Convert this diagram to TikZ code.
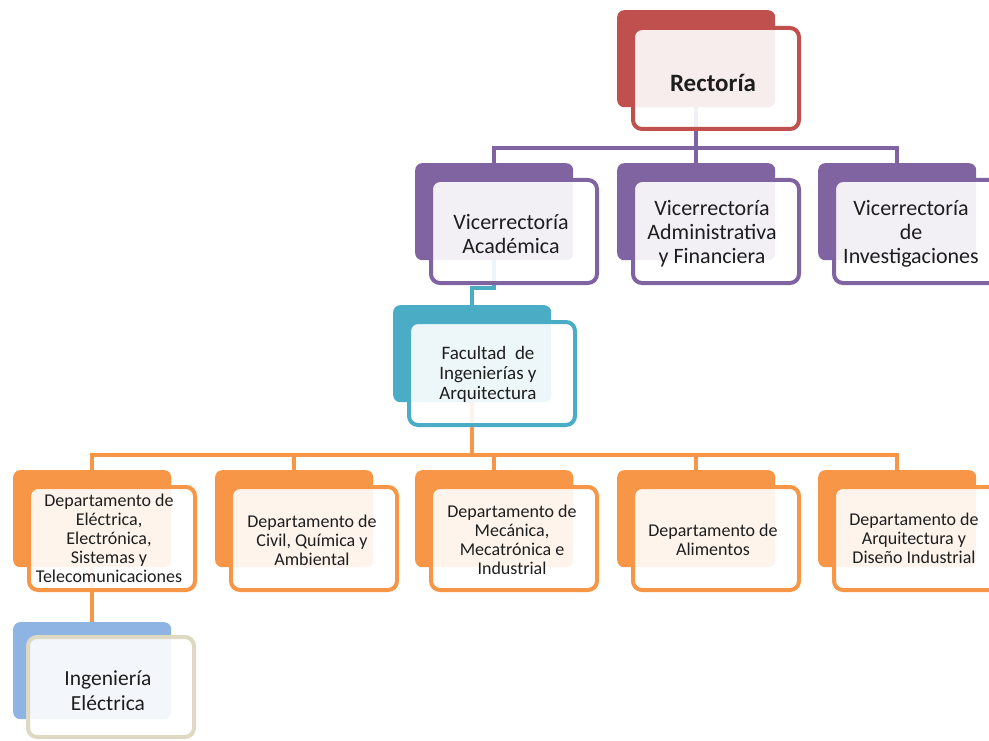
\documentclass[tikz,border=0pt]{standalone}
\usepackage{fontspec}
\setmainfont{Carlito}
\usetikzlibrary{backgrounds}
\definecolor{cRed}{HTML}{C0504D}
\definecolor{cPurple}{HTML}{8064A2}
\definecolor{cCyan}{HTML}{4BACC6}
\definecolor{cOrange}{HTML}{F79646}
\definecolor{cBlue}{HTML}{8EB4E3}
\definecolor{cBeige}{HTML}{DDD9C3}
\definecolor{cText}{HTML}{1E1E1E}
\tikzset{
  backbox/.style={anchor=north west, minimum width=158pt, minimum height=97pt, inner sep=0pt, rounded corners=7pt, draw=none, fill=#1},
  frontbox/.style={anchor=north west, minimum width=166pt, minimum height=103pt, inner sep=0pt, rounded corners=9pt, draw=#1, line width=4pt, fill=white, fill opacity=0.9},
  conn/.style={draw=#1, line width=4pt},
  txt/.style={align=center, text=cText, inner sep=0pt},
  viceT/.style={txt, font=\fontsize{22}{24}\selectfont},
  facT/.style={txt, font=\fontsize{19}{20}\selectfont},
  depT/.style={txt, font=\fontsize{18}{19}\selectfont},
  ingT/.style={txt, font=\fontsize{21.5}{25}\selectfont},
  recT/.style={txt, font=\fontsize{25}{28}\selectfont\bfseries}
}
\begin{document}
\begin{tikzpicture}[x=1pt,y=-1pt]
\useasboundingbox (0,0) rectangle (989,741);
\clip (0,0) rectangle (989,741);
% back boxes
\node[backbox=cRed] (Rb) at (617,10) {};
\node[backbox=cPurple] (VAb) at (415,163) {};
\node[backbox=cPurple] (VFb) at (617,163) {};
\node[backbox=cPurple] (VIb) at (818,163) {};
\node[backbox=cCyan] (Fb) at (393,305) {};
\node[backbox=cOrange] (D1b) at (13,470) {};
\node[backbox=cOrange] (D2b) at (215,470) {};
\node[backbox=cOrange] (D3b) at (415,470) {};
\node[backbox=cOrange] (D4b) at (617,470) {};
\node[backbox=cOrange] (D5b) at (818,470) {};
\node[backbox=cBlue] (Ib) at (13,622) {};
% front boxes
\node[frontbox=cRed, minimum height=101pt] (Rf) at (631,26) {};
\node[frontbox=cPurple] (VAf) at (429,178) {};
\node[frontbox=cPurple] (VFf) at (631,178) {};
\node[frontbox=cPurple] (VIf) at (832,178) {};
\node[frontbox=cCyan] (Ff) at (407,320) {};
\node[frontbox=cOrange] (D1f) at (27,485) {};
\node[frontbox=cOrange] (D2f) at (229,485) {};
\node[frontbox=cOrange] (D3f) at (429,485) {};
\node[frontbox=cOrange] (D4f) at (631,485) {};
\node[frontbox=cOrange] (D5f) at (832,485) {};
\node[frontbox=cBeige, minimum height=100pt] (If) at (26,635) {};
% texts
\node[recT] (Rt) at (713,83) {Rectoría};
\node[viceT] (VAt) at (511,234) {Vicerrectoría\\Académica};
\node[viceT] (VFt) at (712,234) {Vicerrectoría\\Administrativa\\y Financiera};
\node[viceT] (VIt) at (911,234) {Vicerrectoría\\de\\Investigaciones};
\node[facT] (Ft) at (488,374) {Facultad\ \ de\\Ingenierías y\\Arquitectura};
\node[depT] (D1t) at (109,538) {Departamento de\\Eléctrica,\\Electrónica,\\Sistemas y\\Telecomunicaciones};
\node[depT] (D2t) at (312,540) {Departamento de\\Civil, Química y\\Ambiental};
\node[depT] (D3t) at (512,540) {Departamento de\\Mecánica,\\Mecatrónica e\\Industrial};
\node[depT] (D4t) at (713,540) {Departamento de\\Alimentos};
\node[depT] (D5t) at (914,538) {Departamento de\\Arquitectura y\\Diseño Industrial};
\node[ingT] (It) at (108,691) {Ingeniería\\Eléctrica};
% connectors
\begin{pgfonlayer}{background}
\coordinate (pbus) at (0,148);
\coordinate (obus) at (0,455);
\draw[conn=cPurple] (Rb.south) -- (Rb.south |- pbus);
\draw[conn=cPurple] (VAb.north) -- (VAb.north |- pbus) -- (VIb.north |- pbus) -- (VIb.north);
\draw[conn=cPurple] (VFb.north) -- (VFb.north |- pbus);
\draw[conn=cCyan] (VAb.south) -- ++(0,28) -| (Fb.north);
\draw[conn=cOrange] (Fb.south) -- (Fb.south |- obus);
\draw[conn=cOrange] (D1b.north) -- (D1b.north |- obus) -- (D5b.north |- obus) -- (D5b.north);
\draw[conn=cOrange] (D2b.north) -- (D2b.north |- obus);
\draw[conn=cOrange] (D3b.north) -- (D3b.north |- obus);
\draw[conn=cOrange] (D4b.north) -- (D4b.north |- obus);
\draw[conn=cOrange] (D1b.south) -- (Ib.north);
\end{pgfonlayer}
\end{tikzpicture}
\end{document}
